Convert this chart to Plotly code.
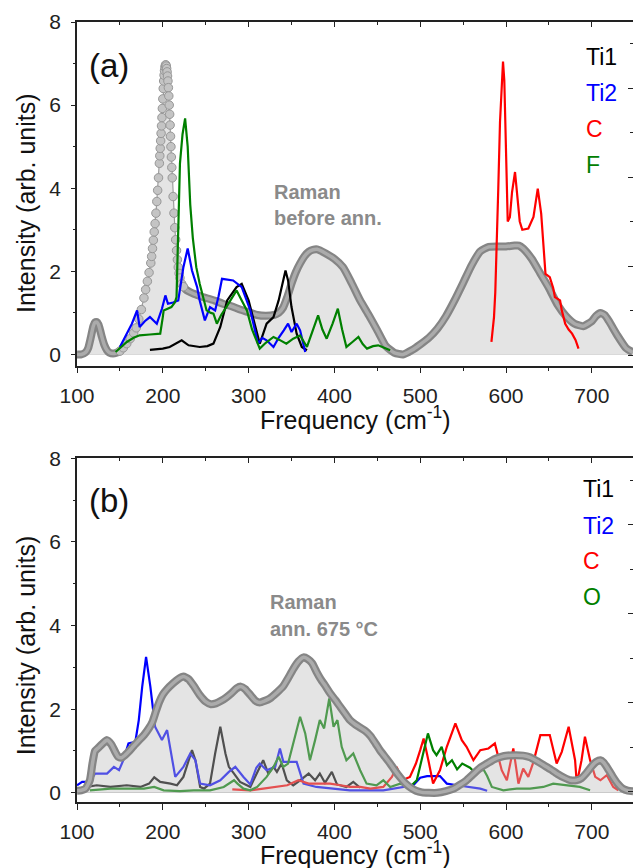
import plotly.graph_objects as go

# ---------------- data: panel (a) ----------------
raman_a_freq = [100, 105, 110, 113, 116, 119, 121, 123, 125, 127, 129, 132, 135, 138, 142, 146, 150, 154, 158, 162,
                166, 169, 172, 175, 178, 180, 182, 184, 186, 187, 188, 189, 190, 191, 192, 193, 194, 195, 196, 196.5,
                197, 197.5, 198, 198.5, 199, 199.5, 200, 200.5, 201, 201.5, 202, 202.5, 203, 203.5, 204, 204.5, 205,
                205.5, 206, 206.5, 207, 207.5, 208, 208.5, 209, 209.5, 210, 210.5, 211, 212, 213, 214, 215, 216, 217,
                218, 219, 220, 222, 224, 227, 230, 235, 240, 245, 250, 260, 270, 280, 290, 300, 310, 320, 330, 335,
                340, 345, 350, 355, 360, 365, 370, 375, 380, 390, 400, 410, 420, 430, 440, 450, 460, 470, 480, 490,
                500, 510, 520, 530, 540, 550, 560, 570, 580, 590, 600, 610, 615, 620, 630, 640, 650, 660, 670, 680,
                690, 700, 705, 710, 715, 720, 730, 740, 748]
raman_a_int = [0.0, 0.0, 0.05, 0.15, 0.4, 0.68, 0.77, 0.78, 0.72, 0.58, 0.42, 0.22, 0.1, 0.04, 0.02, 0.04, 0.08, 0.16,
               0.26, 0.38, 0.52, 0.64, 0.85, 1.08, 1.36, 1.56, 1.76, 1.97, 2.2, 2.36, 2.55, 2.75, 2.95, 3.15, 3.4, 3.68,
               3.95, 4.25, 4.6, 4.78, 4.96, 5.14, 5.32, 5.5, 5.7, 5.92, 6.15, 6.4, 6.58, 6.72, 6.83, 6.91, 6.96, 6.97,
               6.94, 6.88, 6.8, 6.7, 6.58, 6.42, 6.22, 6.0, 5.78, 5.52, 5.25, 5.0, 4.75, 4.5, 4.25, 3.8, 3.4, 3.05,
               2.76, 2.5, 2.28, 2.1, 1.95, 1.84, 1.7, 1.63, 1.56, 1.52, 1.47, 1.43, 1.39, 1.36, 1.3, 1.22, 1.16, 1.08,
               1.02, 0.95, 0.93, 0.95, 1.0, 1.12, 1.38, 1.7, 1.98, 2.19, 2.36, 2.47, 2.52, 2.53, 2.43, 2.3, 2.1, 1.72,
               1.3, 0.95, 0.58, 0.2, 0.04, 0.0, 0.1, 0.24, 0.4, 0.62, 0.92, 1.3, 1.72, 2.15, 2.48, 2.59, 2.6, 2.6,
               2.62, 2.62, 2.55, 2.3, 1.95, 1.6, 1.2, 0.92, 0.74, 0.68, 0.8, 0.93, 1.0, 0.95, 0.8, 0.45, 0.15, 0.05]

ti1_a_freq = [185, 200, 208, 215, 222, 230, 243, 252, 259, 267, 275, 286, 292, 300, 308, 313, 317, 321, 329, 335,
              343, 346, 350, 356, 362, 368]
ti1_a_int = [0.11, 0.14, 0.18, 0.25, 0.34, 0.22, 0.18, 0.2, 0.26, 0.66, 1.3, 1.62, 1.7, 1.3, 0.66, 0.26, 0.5, 0.74,
             0.9, 1.3, 2.02, 1.78, 1.14, 0.5, 0.18, 0.1]

ti2_a_freq = [150, 158, 164, 170, 173, 179, 185, 193, 199, 203, 206, 212, 218, 224, 229, 234, 240, 243, 249, 255,
              261, 265, 269, 282, 292, 302, 311, 316, 321, 329, 335, 341, 346, 350, 356, 360, 366]
ti2_a_int = [0.18, 0.5, 0.74, 1.06, 0.66, 0.8, 0.9, 0.74, 1.1, 1.42, 1.22, 1.25, 1.3, 2.1, 2.55, 2.02, 1.62, 1.3,
             0.82, 1.14, 1.06, 1.4, 1.82, 1.78, 1.62, 1.06, 0.26, 0.4, 0.34, 0.18, 0.4, 0.58, 0.74, 0.54, 0.74,
             0.58, 0.06]

c_a_freq = [583, 586, 587.5, 589, 591, 593, 595, 596.5, 598, 599.5, 601, 602, 604.5, 607, 610.5, 613, 616, 619, 626,
            632, 637, 641, 644, 646, 651, 655, 657, 663, 665, 669, 673, 677, 681, 684.5]
c_a_int = [0.3, 0.9, 1.5, 2.4, 4.0, 5.6, 6.7, 7.05, 6.6, 5.5, 4.0, 3.2, 3.3, 3.9, 4.39, 3.8, 3.2, 3.0, 3.03, 3.31,
           3.99, 3.39, 2.4, 1.94, 1.86, 1.6, 1.38, 1.3, 1.06, 0.74, 0.6, 0.5, 0.35, 0.14]

f_a_freq = [145, 152, 158, 166, 173, 185, 197, 200, 201, 210, 214, 216, 218, 220, 223, 226, 229, 232, 235, 239, 243,
            247, 251, 256, 259, 263, 268, 274, 280, 286, 292, 298, 304, 313, 320, 329, 336, 344, 352, 360, 368, 374,
            381, 386, 391, 398, 404, 409, 414, 421, 428, 433, 438, 445, 451, 458, 465]
f_a_int = [0.06, 0.2, 0.3, 0.4, 0.46, 0.48, 0.5, 0.9, 1.06, 1.14, 1.25, 1.38, 3.0, 4.6, 5.3, 5.68, 5.0, 3.6, 2.8,
           2.1, 1.7, 1.38, 1.06, 1.0, 0.98, 0.74, 0.95, 1.14, 1.35, 1.54, 1.3, 1.06, 0.6, 0.14, 0.28, 0.42, 0.35,
           0.26, 0.38, 0.46, 0.18, 0.55, 0.94, 0.6, 0.38, 0.75, 1.1, 0.6, 0.18, 0.3, 0.42, 0.25, 0.14, 0.2, 0.22,
           0.16, 0.1]

# ---------------- data: panel (b) ----------------
raman_b_freq = [100, 105, 110, 115, 118, 121, 125, 130, 135, 140, 144, 148, 152, 156, 160, 166, 172, 178, 184, 188,
                192, 196, 200, 205, 212, 218, 224, 230, 236, 243, 250, 256, 262, 268, 274, 280, 286, 291, 296, 302,
                308, 313, 319, 325, 333, 340, 346, 352, 358, 364, 369, 374, 379, 384, 390, 395, 401, 407, 413, 418,
                424, 430, 436, 442, 448, 453, 459, 465, 471, 477, 483, 489, 495, 502, 510, 520, 530, 539, 547, 554,
                562, 570, 578, 586, 594, 602, 612, 620, 628, 636, 644, 652, 660, 668, 675, 682, 688, 694, 700, 705,
                710, 714, 718, 724, 730, 736, 742, 748]
raman_b_int = [0.05, 0.06, 0.1, 0.3, 0.7, 1.0, 1.08, 1.18, 1.26, 1.16, 1.0, 0.86, 0.84, 0.9, 0.98, 1.12, 1.25, 1.38,
               1.55, 1.7, 1.95, 2.18, 2.35, 2.48, 2.62, 2.72, 2.78, 2.72, 2.56, 2.34, 2.18, 2.12, 2.14, 2.2, 2.28,
               2.38, 2.5, 2.54, 2.48, 2.34, 2.2, 2.16, 2.2, 2.26, 2.4, 2.54, 2.74, 2.96, 3.14, 3.24, 3.2, 3.1, 2.9,
               2.72, 2.54, 2.38, 2.22, 2.05, 1.88, 1.74, 1.64, 1.56, 1.48, 1.36, 1.18, 1.02, 0.86, 0.7, 0.52, 0.36,
               0.22, 0.12, 0.05, 0.01, 0.0, 0.0, 0.04, 0.1, 0.2, 0.3, 0.45, 0.6, 0.7, 0.8, 0.86, 0.89, 0.9, 0.89,
               0.85, 0.76, 0.66, 0.56, 0.45, 0.36, 0.3, 0.3, 0.35, 0.48, 0.64, 0.74, 0.78, 0.72, 0.6, 0.4, 0.22, 0.1,
               0.05, 0.04]

ti1_b_freq = [112, 123, 139, 158, 174, 184, 190, 197, 209, 216.5, 224, 230, 234, 238, 243.5, 248, 255, 261, 267, 273,
              277, 283, 290, 298, 302, 307.5, 317, 323, 329, 333, 338.5, 344.5, 352, 360, 370, 377.5, 383, 389, 397,
              403, 414, 422, 430]
ti1_b_int = [0.14, 0.18, 0.14, 0.18, 0.14, 0.22, 0.37, 0.26, 0.22, 0.18, 0.38, 0.78, 1.02, 0.78, 0.14, 0.1, 0.22,
             0.94, 1.58, 0.94, 0.62, 0.46, 0.26, 0.18, 0.14, 0.38, 0.78, 0.46, 0.62, 0.5, 0.7, 0.3, 0.18, 0.3, 0.46,
             0.3, 0.46, 0.24, 0.5, 0.2, 0.14, 0.26, 0.12]

ti2_b_freq = [100, 106, 115, 121, 135, 143, 149, 154, 160, 168, 172, 176, 180.5, 185.5, 191, 199, 205, 209, 214.5,
              224, 232, 238, 243.5, 255, 267, 277, 284.5, 294, 302, 309, 313, 321, 331, 336.5, 340.5, 356, 364, 379,
              400, 418, 457, 492, 500, 508, 523, 531, 543, 558, 570, 578]
ti2_b_int = [0.18, 0.26, 0.26, 0.46, 0.46, 0.62, 0.54, 0.78, 1.18, 1.22, 1.74, 2.54, 3.25, 2.54, 1.58, 1.26, 1.5,
             1.02, 0.38, 0.62, 0.94, 0.78, 0.22, 0.18, 0.3, 0.5, 0.62, 0.38, 0.2, 0.6, 0.7, 0.54, 0.62, 1.06, 0.74,
             0.74, 0.22, 0.14, 0.1, 0.06, 0.06, 0.18, 0.36, 0.4, 0.4, 0.22, 0.18, 0.14, 0.1, 0.05]

c_b_freq = [281, 302, 317, 333, 345, 358, 370, 383, 395, 407, 418, 430, 442, 457, 467, 472.5, 479, 488, 495, 500,
            504, 509.5, 515, 523, 531, 541, 548.5, 554, 562, 570, 579.5, 587, 595, 601, 608.5, 614.5, 620, 626, 632,
            640, 651, 659, 665, 673, 680.5, 682.5, 688, 692, 698, 704, 710, 717.5, 725, 731]
c_b_int = [0.08, 0.06, 0.1, 0.14, 0.18, 0.3, 0.22, 0.22, 0.22, 0.18, 0.14, 0.14, 0.1, 0.14, 0.38, 0.62, 0.3, 0.38,
           0.7, 1.02, 1.3, 0.78, 0.22, 0.54, 1.1, 1.66, 1.26, 1.1, 0.78, 1.02, 1.06, 1.18, 0.54, 0.3, 1.06, 0.22,
           0.58, 0.38, 0.74, 1.38, 1.38, 0.7, 0.98, 1.58, 0.78, 0.22, 0.78, 1.34, 0.78, 0.38, 0.3, 0.42, 0.14, 0.06]

o_b_freq = [115, 139, 178, 190, 201, 220, 236, 255, 271, 279, 283, 287, 294, 302, 310, 321, 329, 335, 340.5, 346, 352,
            360, 366, 371.5, 377.5, 383, 388, 394, 399, 403.5, 408.5, 414, 422, 430, 437.5, 449, 457, 465, 476.5,
            488, 496, 503.5, 509, 515, 519, 525, 531, 537, 543, 549, 558, 564, 574, 578, 583.5, 597, 612.5, 628,
            643.5, 655, 671, 686, 698]
o_b_int = [0.06, 0.1, 0.1, 0.14, 0.06, 0.04, 0.06, 0.06, 0.14, 0.26, 0.3, 0.22, 0.1, 0.06, 0.14, 0.38, 0.62, 0.86,
           0.62, 0.7, 1.18, 1.82, 1.42, 0.78, 1.26, 1.74, 1.54, 2.26, 1.58, 1.74, 1.1, 0.78, 0.94, 0.54, 0.22, 0.18,
           0.3, 0.14, 0.22, 0.14, 0.3, 0.94, 1.42, 1.02, 0.9, 1.1, 0.66, 0.78, 0.56, 0.7, 0.6, 0.48, 0.55, 0.4,
           0.14, 0.06, 0.1, 0.1, 0.14, 0.22, 0.18, 0.14, 0.06]

x_ticks = [100, 200, 300, 400, 500, 600, 700]
y_ticks = [0, 2, 4, 6, 8]
legend_a = [("Ti1", "#000000"), ("Ti2", "#0000ff"), ("C", "#ff0000"), ("F", "#008000")]
legend_b = [("Ti1", "#000000"), ("Ti2", "#0000ff"), ("C", "#ff0000"), ("O", "#008000")]

# ---------------- figure ----------------
FONT = "Arial, 'Liberation Sans', sans-serif"
AX = "#222222"
fig = go.Figure()

# panel (a): Raman fill, tube, beads
fig.add_trace(go.Scatter(x=raman_a_freq, y=raman_a_int, mode="lines", fill="tozeroy",
                         fillcolor="#e4e4e4", line=dict(width=0, shape="spline", smoothing=0.5),
                         xaxis="x", yaxis="y", hoverinfo="skip"))
bead_lo, bead_hi = 152, 222
tube_a = [v if not (bead_lo < f < bead_hi) else None for f, v in zip(raman_a_freq, raman_a_int)]
fig.add_trace(go.Scatter(x=raman_a_freq, y=tube_a, mode="lines",
                         line=dict(color="#858585", width=8, shape="spline", smoothing=0.5),
                         xaxis="x", yaxis="y"))
fig.add_trace(go.Scatter(x=raman_a_freq, y=tube_a, mode="lines",
                         line=dict(color="#ababab", width=3.5, shape="spline", smoothing=0.5),
                         xaxis="x", yaxis="y"))
bead_f = [f for f in raman_a_freq if bead_lo - 4 <= f <= bead_hi + 3]
bead_v = [v for f, v in zip(raman_a_freq, raman_a_int) if bead_lo - 4 <= f <= bead_hi + 3]
fig.add_trace(go.Scatter(x=bead_f, y=bead_v, mode="lines+markers",
                         line=dict(color="#9c9c9c", width=1.2),
                         marker=dict(symbol="circle", size=8.5, color="#c4c4c4",
                                     line=dict(color="#979797", width=1)),
                         xaxis="x", yaxis="y"))

LW = 2.2
for fx, fy, col in [(ti1_a_freq, ti1_a_int, "#000000"), (ti2_a_freq, ti2_a_int, "#0000ff"),
                    (c_a_freq, c_a_int, "#ff0000"), (f_a_freq, f_a_int, "#008000")]:
    fig.add_trace(go.Scatter(x=fx, y=fy, mode="lines", line=dict(color=col, width=LW),
                             xaxis="x", yaxis="y"))

# panel (b): components first, then translucent fill, then tube
for fx, fy, col in [(ti1_b_freq, ti1_b_int, "#000000"), (ti2_b_freq, ti2_b_int, "#0000ff"),
                    (c_b_freq, c_b_int, "#ff0000"), (o_b_freq, o_b_int, "#008000")]:
    fig.add_trace(go.Scatter(x=fx, y=fy, mode="lines", line=dict(color=col, width=LW),
                             xaxis="x2", yaxis="y2"))
fig.add_trace(go.Scatter(x=raman_b_freq, y=raman_b_int, mode="lines", fill="tozeroy",
                         fillcolor="rgba(190,190,190,0.42)", line=dict(width=0, shape="spline", smoothing=0.5),
                         xaxis="x2", yaxis="y2"))
fig.add_trace(go.Scatter(x=raman_b_freq, y=raman_b_int, mode="lines",
                         line=dict(color="#858585", width=8, shape="spline", smoothing=0.5),
                         xaxis="x2", yaxis="y2"))
fig.add_trace(go.Scatter(x=raman_b_freq, y=raman_b_int, mode="lines",
                         line=dict(color="#ababab", width=3.5, shape="spline", smoothing=0.5),
                         xaxis="x2", yaxis="y2"))

# empty traces to create the mirror (top/right) axes
fig.add_trace(go.Scatter(x=[], y=[], xaxis="x3", yaxis="y3"))
fig.add_trace(go.Scatter(x=[], y=[], xaxis="x4", yaxis="y4"))

XR = [100, 748]
dom_a = [0.5594, 1.0]
dom_b = [0.0, 0.4406]


def bottom_x(anchor, dom_y):
    return dict(domain=[0, 1], anchor=anchor, range=XR, tickmode="array", tickvals=x_ticks,
                ticks="outside", ticklen=6, tickwidth=1.3, tickcolor=AX,
                minor=dict(tickmode="linear", tick0=150, dtick=100, ticks="outside", ticklen=3.5,
                           tickwidth=1.2, tickcolor=AX),
                showline=True, linecolor=AX, linewidth=1.5, showgrid=False, zeroline=False,
                tickfont=dict(family=FONT, size=21, color=AX), ticklabelstandoff=4)


def left_y(anchor, dom, rng):
    return dict(domain=dom, anchor=anchor, range=rng, tickmode="array", tickvals=y_ticks,
                ticks="outside", ticklen=4, tickwidth=1.3, tickcolor=AX,
                minor=dict(tickmode="linear", tick0=1, dtick=2, ticks="outside", ticklen=2.5,
                           tickwidth=1.2, tickcolor=AX),
                showline=True, linecolor=AX, linewidth=1.5, showgrid=False,
                zeroline=True, zerolinecolor="#cfcfcf", zerolinewidth=1,
                tickfont=dict(family=FONT, size=21, color=AX), ticklabelstandoff=6)


def top_x(over, anchor):
    return dict(overlaying=over, anchor=anchor, side="top", range=XR, tickmode="linear", tick0=100,
                dtick=100, ticks="inside", ticklen=5, tickwidth=1.3, tickcolor=AX,
                minor=dict(tickmode="linear", tick0=150, dtick=100, ticks="inside", ticklen=3,
                           tickwidth=1.2, tickcolor=AX),
                showticklabels=False, showline=True, linecolor=AX, linewidth=1.5,
                showgrid=False, zeroline=False)


def right_y(over, anchor, rng):
    return dict(overlaying=over, anchor=anchor, side="right", range=rng, tickmode="linear", tick0=0,
                dtick=2, ticks="inside", ticklen=5, tickwidth=1.3, tickcolor=AX,
                minor=dict(tickmode="linear", tick0=1, dtick=2, ticks="inside", ticklen=3,
                           tickwidth=1.2, tickcolor=AX),
                showticklabels=False, showline=True, linecolor=AX, linewidth=1.5,
                showgrid=False, zeroline=False)


fig.update_layout(
    width=633, height=868,
    margin=dict(l=77, r=0, t=22, b=66),
    paper_bgcolor="white", plot_bgcolor="white",
    showlegend=False,
    xaxis=bottom_x("y", dom_a),
    yaxis=left_y("x", dom_a, [-0.27, 8]),
    xaxis2=bottom_x("y2", dom_b),
    yaxis2=left_y("x2", dom_b, [-0.22, 8]),
    xaxis3=top_x("x", "y3"),
    yaxis3=right_y("y", "x3", [-0.24, 7.49]),
    xaxis4=top_x("x2", "y4"),
    yaxis4=right_y("y2", "x4", [-0.23, 7.49]),
)

ann = []
# panel labels
ann.append(dict(text="(a)", xref="x domain", yref="y domain", x=0.018, y=0.874, xanchor="left",
                yanchor="middle", showarrow=False, font=dict(family=FONT, size=33, color="#111")))
ann.append(dict(text="(b)", xref="x2 domain", yref="y2 domain", x=0.018, y=0.878, xanchor="left",
                yanchor="middle", showarrow=False, font=dict(family=FONT, size=33, color="#111")))
# legends (colored text)
for (txt, col), yy in zip(legend_a, [0.898, 0.793, 0.688, 0.583]):
    ann.append(dict(text=txt, xref="x domain", yref="y domain", x=0.912, y=yy, xanchor="left",
                    yanchor="middle", showarrow=False, font=dict(family=FONT, size=23, color=col)))
for (txt, col), yy in zip(legend_b, [0.911, 0.803, 0.701, 0.597]):
    ann.append(dict(text=txt, xref="x2 domain", yref="y2 domain", x=0.906, y=yy, xanchor="left",
                    yanchor="middle", showarrow=False, font=dict(family=FONT, size=23, color=col)))
# Raman labels
GR = "#8a8a8a"
for txt, xx, yy in [("<b>Raman</b>", 0.351, 0.505), ("<b>before ann.</b>", 0.351, 0.429)]:
    ann.append(dict(text=txt, xref="x domain", yref="y domain", x=xx, y=yy, xanchor="left",
                    yanchor="middle", showarrow=False, font=dict(family=FONT, size=20, color=GR)))
for txt, xx, yy in [("<b>Raman</b>", 0.344, 0.583), ("<b>ann. 675 °C</b>", 0.344, 0.503)]:
    ann.append(dict(text=txt, xref="x2 domain", yref="y2 domain", x=xx, y=yy, xanchor="left",
                    yanchor="middle", showarrow=False, font=dict(family=FONT, size=20, color=GR)))
# axis titles
for yy in [0.768, 0.201]:
    ann.append(dict(text="Intensity (arb. units)", xref="paper", yref="paper", x=-0.0917, y=yy,
                    xanchor="center", yanchor="middle", textangle=-90, showarrow=False,
                    font=dict(family=FONT, size=25, color="#111")))
for yy in [0.492, -0.065]:
    ann.append(dict(text="Frequency (cm<sup>-1</sup>)", xref="paper", yref="paper", x=0.5, y=yy,
                    xanchor="center", yanchor="middle", showarrow=False,
                    font=dict(family=FONT, size=25, color="#111")))
fig.update_layout(annotations=ann)

fig.write_html("out.html", config={"displayModeBar": False},
               post_script="document.body.style.margin='0';document.body.style.overflow='hidden';")
